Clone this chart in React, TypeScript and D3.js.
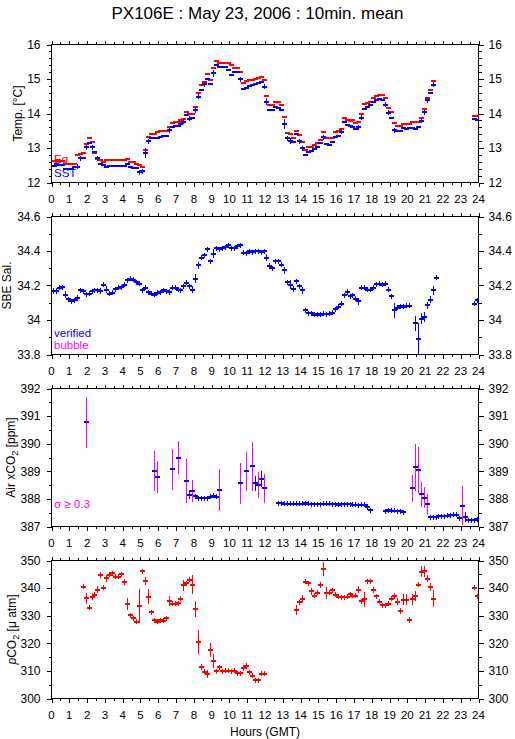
import * as d3 from 'd3';

// 10-minute bins: [bin index (0..143), value, half error bar]
const sstData: number[][] = [
  [0, 12.48, 0], [1, 12.53, 0.05], [2, 12.51, 0], [3, 12.51, 0], [4, 12.39, 0], [5, 12.39, 0], [6, 12.39, 0],
  [7, 12.44, 0], [8, 12.45, 0.05], [9, 12.7, 0.05], [10, 12.72, 0], [11, 13.02, 0.08], [12, 13.14, 0],
  [13, 13.02, 0.05], [14, 12.89, 0], [15, 12.7, 0.08], [16, 12.53, 0], [17, 12.51, 0], [18, 12.46, 0],
  [19, 12.49, 0], [20, 12.48, 0], [21, 12.47, 0], [22, 12.47, 0], [23, 12.47, 0], [24, 12.48, 0],
  [25, 12.53, 0], [26, 12.44, 0], [27, 12.43, 0], [28, 12.42, 0], [29, 12.29, 0.08], [30, 12.32, 0.07],
  [31, 12.85, 0.15], [32, 13.19, 0.05], [33, 13.28, 0], [34, 13.28, 0], [35, 13.3, 0], [36, 13.33, 0],
  [37, 13.34, 0], [38, 13.36, 0], [39, 13.52, 0.05], [40, 13.62, 0], [41, 13.63, 0], [42, 13.65, 0],
  [43, 13.69, 0], [44, 13.76, 0.05], [45, 13.95, 0], [46, 13.85, 0.04], [47, 13.88, 0], [48, 14.1, 0.08],
  [49, 14.49, 0.08], [50, 14.68, 0], [51, 14.85, 0.07], [52, 14.99, 0], [53, 14.85, 0], [54, 15.16, 0.1],
  [55, 15.42, 0], [56, 15.35, 0], [57, 15.35, 0], [58, 15.35, 0], [59, 15.25, 0], [60, 15.13, 0],
  [61, 15.2, 0], [62, 15.2, 0], [63, 14.99, 0.07], [64, 14.7, 0], [65, 14.73, 0], [66, 14.8, 0],
  [67, 14.82, 0], [68, 14.85, 0], [69, 14.89, 0], [70, 14.9, 0], [71, 14.78, 0.07], [72, 14.34, 0.1],
  [73, 14.1, 0], [74, 14.1, 0], [75, 14.2, 0], [76, 14.15, 0], [77, 14.1, 0], [78, 13.69, 0.15],
  [79, 13.28, 0.07], [80, 13.2, 0.08], [81, 13.18, 0], [82, 13.4, 0], [83, 13.19, 0.05], [84, 13.0, 0.07],
  [85, 12.8, 0], [86, 12.87, 0], [87, 12.9, 0], [88, 12.96, 0], [89, 13.04, 0], [90, 13.14, 0],
  [91, 13.31, 0.05], [92, 13.12, 0], [93, 13.09, 0], [94, 13.16, 0], [95, 13.33, 0], [96, 13.36, 0],
  [97, 13.47, 0.05], [98, 13.74, 0], [99, 13.67, 0], [100, 13.65, 0], [101, 13.62, 0], [102, 13.56, 0],
  [103, 13.6, 0.07], [104, 13.88, 0.05], [105, 14.12, 0], [106, 14.18, 0], [107, 14.25, 0], [108, 14.32, 0],
  [109, 14.39, 0], [110, 14.42, 0], [111, 14.39, 0], [112, 14.25, 0.07], [113, 14.02, 0.05], [114, 13.86, 0],
  [115, 13.52, 0.05], [116, 13.49, 0], [117, 13.49, 0], [118, 13.57, 0], [119, 13.55, 0], [120, 13.58, 0],
  [121, 13.57, 0], [122, 13.54, 0], [123, 13.62, 0], [124, 13.79, 0.05], [125, 14.04, 0.05],
  [126, 14.39, 0.1], [127, 14.58, 0], [128, 14.84, 0.05], [142, 13.83, 0], [143, 13.81, 0],
];

const eqData: number[][] = [
  [0, 12.62], [1, 12.62], [2, 12.62], [3, 12.62], [4, 12.53], [5, 12.53], [6, 12.53], [7, 12.53],
  [8, 12.8], [9, 12.82], [10, 12.85], [11, 13.12], [12, 13.28], [13, 13.17], [14, 12.85], [15, 12.67],
  [16, 12.65], [17, 12.6], [18, 12.65], [19, 12.65], [20, 12.65], [21, 12.65], [22, 12.65], [23, 12.65],
  [24, 12.65], [25, 12.67], [26, 12.58], [27, 12.58], [28, 12.53], [29, 12.5], [30, 12.46], [31, 12.94],
  [32, 13.31], [33, 13.4], [34, 13.4], [35, 13.45], [36, 13.49], [37, 13.49], [38, 13.5], [39, 13.6],
  [40, 13.72], [41, 13.74], [42, 13.75], [43, 13.8], [44, 13.83], [45, 14.05], [46, 13.98], [47, 13.98],
  [48, 14.2], [49, 14.58], [50, 14.82], [51, 14.92], [52, 15.14], [53, 14.97], [54, 15.31], [55, 15.53],
  [56, 15.47], [57, 15.47], [58, 15.45], [59, 15.47], [60, 15.4], [61, 15.33], [62, 15.33], [63, 15.19],
  [64, 14.87], [65, 14.94], [66, 14.97], [67, 14.98], [68, 15.0], [69, 15.02], [70, 15.05], [71, 14.97],
  [72, 14.52], [73, 14.25], [74, 14.25], [75, 14.33], [76, 14.33], [77, 14.25], [78, 13.9], [79, 13.43],
  [80, 13.42], [81, 13.28], [82, 13.5], [83, 13.38], [84, 13.17], [85, 12.94], [86, 13.02], [87, 13.04],
  [88, 13.1], [89, 13.14], [90, 13.23], [91, 13.45], [92, 13.28], [93, 13.28], [94, 13.28], [95, 13.45],
  [96, 13.5], [97, 13.55], [98, 13.86], [99, 13.82], [100, 13.78], [101, 13.8], [102, 13.73], [103, 13.75],
  [104, 13.98], [105, 14.27], [106, 14.29], [107, 14.34], [108, 14.44], [109, 14.52], [110, 14.55],
  [111, 14.53], [112, 14.44], [113, 14.17], [114, 14.03], [115, 13.72], [116, 13.64], [117, 13.64],
  [118, 13.69], [119, 13.69], [120, 13.69], [121, 13.75], [122, 13.75], [123, 13.75], [124, 13.86],
  [125, 14.14], [126, 14.46], [127, 14.68], [128, 14.93], [142, 13.94], [143, 13.94],
];

const salData: number[][] = [
  [0, 34.168, 0.015], [1, 34.168, 0.02], [2, 34.186, 0], [3, 34.19, 0], [4, 34.147, 0.02], [5, 34.12, 0],
  [6, 34.108, 0], [7, 34.114, 0], [8, 34.128, 0.015], [9, 34.172, 0], [10, 34.166, 0], [11, 34.149, 0],
  [12, 34.153, 0], [13, 34.168, 0], [14, 34.172, 0], [15, 34.172, 0], [16, 34.168, 0.015], [17, 34.205, 0],
  [18, 34.176, 0.02], [19, 34.153, 0.015], [20, 34.157, 0], [21, 34.178, 0], [22, 34.186, 0], [23, 34.19, 0],
  [24, 34.205, 0], [25, 34.23, 0.015], [26, 34.238, 0], [27, 34.234, 0], [28, 34.22, 0], [29, 34.21, 0],
  [30, 34.172, 0.015], [31, 34.187, 0.015], [32, 34.162, 0], [33, 34.153, 0], [34, 34.147, 0], [35, 34.157, 0],
  [36, 34.162, 0], [37, 34.172, 0], [38, 34.168, 0], [39, 34.162, 0.015], [40, 34.187, 0], [41, 34.187, 0],
  [42, 34.176, 0], [43, 34.172, 0], [44, 34.197, 0], [45, 34.216, 0], [46, 34.195, 0.015], [47, 34.176, 0.02],
  [48, 34.24, 0.025], [49, 34.317, 0.02], [50, 34.36, 0], [51, 34.375, 0.015], [52, 34.41, 0], [53, 34.34, 0],
  [54, 34.384, 0.025], [55, 34.417, 0], [56, 34.41, 0], [57, 34.417, 0], [58, 34.423, 0], [59, 34.432, 0],
  [60, 34.417, 0], [61, 34.417, 0], [62, 34.428, 0], [63, 34.432, 0], [64, 34.39, 0], [65, 34.388, 0],
  [66, 34.4, 0], [67, 34.394, 0], [68, 34.4, 0], [69, 34.4, 0], [70, 34.394, 0], [71, 34.4, 0],
  [72, 34.36, 0.02], [73, 34.313, 0.02], [74, 34.3, 0], [75, 34.34, 0], [76, 34.34, 0], [77, 34.32, 0],
  [78, 34.288, 0.02], [79, 34.22, 0], [80, 34.205, 0.025], [81, 34.18, 0.02], [82, 34.224, 0], [83, 34.195, 0],
  [84, 34.172, 0.02], [85, 34.056, 0], [86, 34.04, 0], [87, 34.04, 0], [88, 34.03, 0], [89, 34.033, 0],
  [90, 34.03, 0], [91, 34.037, 0], [92, 34.033, 0], [93, 34.037, 0], [94, 34.043, 0], [95, 34.062, 0],
  [96, 34.076, 0], [97, 34.095, 0.015], [98, 34.143, 0], [99, 34.162, 0.015], [100, 34.139, 0], [101, 34.143, 0],
  [102, 34.124, 0], [103, 34.108, 0.02], [104, 34.187, 0.015], [105, 34.187, 0], [106, 34.176, 0],
  [107, 34.176, 0], [108, 34.187, 0], [109, 34.207, 0], [110, 34.21, 0], [111, 34.205, 0], [112, 34.21, 0],
  [113, 34.176, 0], [114, 34.137, 0.015], [115, 34.056, 0.045], [116, 34.072, 0], [117, 34.08, 0],
  [118, 34.076, 0], [119, 34.082, 0], [120, 34.082, 0], [122, 33.98, 0.045], [123, 33.89, 0.09],
  [124, 34.008, 0.03], [125, 34.018, 0.03], [126, 34.085, 0.02], [127, 34.118, 0.02], [128, 34.172, 0.025],
  [129, 34.245, 0.015], [142, 34.095, 0], [143, 34.114, 0.015],
];

const xco2Data: number[][] = [
  [11, 390.77, 0.92], [34, 389.0, 0.72], [35, 388.78, 0.58], [40, 389.07, 0.74], [42, 389.5, 0.6],
  [45, 388.64, 0.8], [46, 388.15, 0.16], [47, 388.29, 0.4], [48, 388.09, 0.1], [49, 388.03, 0.04],
  [50, 388.03, 0.04], [51, 388.03, 0.04], [52, 388.03, 0.04], [53, 388.07, 0.04], [54, 388.12, 0.08],
  [55, 388.07, 0.04], [56, 388.33, 0.76], [63, 388.56, 0.75], [65, 389.0, 0.7], [67, 389.18, 0.89],
  [68, 388.56, 0.28], [69, 388.5, 0.48], [70, 388.72, 0.28], [71, 388.38, 0.53],
  [76, 387.84, 0.03], [77, 387.84, 0.03], [78, 387.83, 0.03], [79, 387.82, 0.03], [80, 387.82, 0.03],
  [81, 387.82, 0.03], [82, 387.82, 0.03], [83, 387.82, 0.03], [84, 387.83, 0.03], [85, 387.84, 0.03],
  [86, 387.83, 0.03], [87, 387.81, 0.03], [88, 387.81, 0.03], [89, 387.81, 0.03], [90, 387.81, 0.03],
  [91, 387.82, 0.03], [92, 387.82, 0.03], [93, 387.82, 0.03], [94, 387.81, 0.03], [95, 387.8, 0.03],
  [96, 387.79, 0.03], [97, 387.8, 0.03], [98, 387.81, 0.03], [99, 387.81, 0.05], [100, 387.81, 0.03],
  [101, 387.79, 0.03], [102, 387.78, 0.03], [103, 387.77, 0.03], [104, 387.79, 0.05], [105, 387.78, 0.03],
  [106, 387.7, 0.1], [107, 387.58, 0.03], [112, 387.55, 0.04], [113, 387.58, 0.04], [114, 387.57, 0.03],
  [115, 387.57, 0.03], [116, 387.55, 0.03], [117, 387.55, 0.03], [118, 387.52, 0.03],
  [121, 388.38, 0.5], [122, 389.15, 0.85], [123, 389.05, 0.82], [124, 388.17, 0.46], [125, 388.05, 0.37],
  [126, 387.8, 0.38], [127, 387.34, 0.03], [128, 387.34, 0.03], [129, 387.34, 0.03], [130, 387.37, 0.03],
  [131, 387.38, 0.03], [132, 387.38, 0.03], [133, 387.39, 0.03], [134, 387.41, 0.03], [135, 387.43, 0.03],
  [136, 387.42, 0.03], [137, 387.3, 0.04], [138, 387.75, 0.7], [139, 387.35, 0.18], [140, 387.22, 0.04],
  [141, 387.22, 0.03], [142, 387.22, 0.03], [143, 387.27, 0.04],
];

const pco2Data: number[][] = [
  [10, 340.4, 0.4], [11, 336.4, 2], [12, 332.9, 0.8], [13, 336.9, 1.2], [14, 337.6, 0.6], [15, 339.4, 1.3],
  [16, 344.7, 1], [17, 340.1, 0.8], [18, 343.6, 1.3], [19, 344.9, 0.4], [20, 345.4, 0.3], [21, 344.2, 0.6],
  [22, 344.1, 0.3], [23, 345.1, 0.4], [24, 342.2, 1.2], [25, 334.3, 2.2], [26, 330.2, 0.5], [27, 329, 0.5],
  [28, 327.8, 0.3], [29, 333.5, 6.3], [30, 346.1, 0.8], [31, 342.6, 1.3], [32, 336.9, 2.6], [33, 331.3, 0.9],
  [34, 328.4, 0.3], [35, 327.8, 0.2], [36, 328.4, 0.3], [37, 328.1, 0.3], [38, 329, 0.4], [39, 335.3, 1.8],
  [40, 334.3, 0.4], [41, 334.3, 0.3], [42, 334.6, 0.4], [43, 336.1, 0.7], [44, 341.1, 2], [45, 341.8, 0.7],
  [46, 343.1, 0.3], [47, 341.3, 3.5], [48, 332.4, 3], [49, 320.5, 4.5], [50, 311.4, 1], [51, 309.7, 0.6],
  [52, 309, 1.5], [53, 317.6, 2.5], [54, 313.5, 2.6], [55, 309.8, 0.7], [56, 311.4, 0.7], [57, 309.8, 0.4],
  [58, 310, 0.5], [59, 310.1, 0.7], [60, 309.9, 0.8], [61, 310, 0.8], [62, 309.1, 0.5], [63, 309.2, 0.7],
  [64, 311, 1], [65, 311.8, 1], [66, 309.6, 0.6], [67, 308.2, 0.3], [68, 306.6, 1], [69, 306.7, 0.5],
  [70, 309, 1], [71, 309, 0.8], [82, 332, 1.8], [83, 334.9, 0.8], [84, 336.1, 1.5], [85, 342.3, 0.5],
  [86, 341.8, 0.4], [87, 338.8, 1.3], [88, 337.3, 0.4], [89, 338.4, 0.6], [90, 341.1, 1], [91, 346.9, 2.5],
  [92, 338.3, 2.2], [93, 338.3, 0.5], [94, 339.2, 0.6], [95, 337.6, 0.3], [96, 336.9, 0.3], [97, 336.6, 0.4],
  [98, 336.6, 0.6], [99, 336.8, 0.3], [100, 337.8, 0.5], [101, 337.2, 0.3], [102, 337.2, 0.3],
  [103, 339.4, 1.3], [104, 335.3, 0.8], [105, 335.9, 2.6], [106, 342.4, 0.6], [107, 342.5, 0.3],
  [108, 339.4, 1], [109, 337.1, 0.7], [110, 335, 0.3], [111, 333.8, 0.6], [112, 333.8, 0.3], [113, 334.3, 0.6],
  [114, 336.1, 0.8], [115, 337.1, 1], [116, 335, 1.3], [117, 331.7, 1], [118, 335.8, 2], [119, 335.8, 2],
  [120, 328.4, 1], [121, 335.9, 2], [122, 337.2, 1.8], [123, 341.3, 1], [124, 345.9, 2], [125, 346.1, 2],
  [126, 343.4, 1.3], [127, 340.4, 1.3], [128, 336.2, 3], [142, 340.1, 0.6], [143, 337.1, 0.6],
];

const hourTicks = d3.range(0, 25);
const BLUE = '#0000ff';
const RED = '#ff0000';
const MAGENTA = '#ff00ff';
const FONT = '"Liberation Sans", Arial, Helvetica, sans-serif';

const LEFT = 51.5;
const RIGHT = 478.5;
const PANEL_H = 138;
const panelTop = (i: number) => 44.5 + 172 * i;

const x = d3.scaleLinear().domain([0, 24]).range([LEFT, RIGHT]);
const binX = (b: number) => x((b + 0.5) / 6);

type AxisProps = {
  top: number;
  y: d3.ScaleLinear<number, number>;
  major: number;
  minor: number;
  label: React.ReactNode;
  labelX: number;
  id: string;
};

const Frame = ({ top, y, major, minor, label, labelX, id }: AxisProps) => {
  const bottom = top + PANEL_H;
  const majors = y.ticks(major);
  const minors = y.ticks(minor);
  const isMajor = (v: number) => majors.some((m) => Math.abs(m - v) < 1e-9);
  const fmt = d3.format('~g');
  return (
    <g>
      <clipPath id={id}>
        <rect x={LEFT} y={top} width={RIGHT - LEFT} height={PANEL_H} />
      </clipPath>
      <rect x={LEFT} y={top} width={RIGHT - LEFT} height={PANEL_H} fill="none" stroke="#000" />
      {x.ticks(48).map((t) => {
        const len = Number.isInteger(t) ? 4 : 2.5;
        const px = Math.round(x(t)) + 0.5;
        return (
          <g key={'xt' + t}>
            <line x1={px} x2={px} y1={top} y2={top - len} stroke="#000" />
            <line x1={px} x2={px} y1={bottom} y2={bottom + len} stroke="#000" />
          </g>
        );
      })}
      {hourTicks.map((h) => (
        <text key={'xl' + h} x={x(h)} y={bottom + 20} textAnchor="middle" fontSize={11.5}>
          {h}
        </text>
      ))}
      {minors.map((v) => {
        const len = isMajor(v) ? 5 : 3;
        const py = Math.round(y(v)) + 0.5;
        return (
          <g key={'yt' + v}>
            <line x1={LEFT} x2={LEFT - len} y1={py} y2={py} stroke="#000" />
            <line x1={RIGHT} x2={RIGHT + len} y1={py} y2={py} stroke="#000" />
          </g>
        );
      })}
      {majors.map((v) => (
        <g key={'yl' + v}>
          <text x={LEFT - 11} y={y(v)} dy="0.36em" textAnchor="end" fontSize={12}>
            {fmt(v)}
          </text>
          <text x={RIGHT + 10} y={y(v)} dy="0.36em" textAnchor="start" fontSize={12}>
            {fmt(v)}
          </text>
        </g>
      ))}
      <text
        transform={`translate(${labelX}, ${top + PANEL_H / 2}) rotate(-90)`}
        textAnchor="middle"
        dy="0.36em"
        fontSize={12}
      >
        {label}
      </text>
    </g>
  );
};

const Marks = ({
  data,
  y,
  color,
  vColor,
  cross,
  clip,
}: {
  data: number[][];
  y: d3.ScaleLinear<number, number>;
  color: string;
  vColor?: (err: number) => string;
  cross: boolean;
  clip: string;
}) => (
  <g clipPath={`url(#${clip})`}>
    {data.map(([b, v, e = 0]) => {
      const cx = Math.round(binX(b)) + 0.5;
      const cy = y(v);
      let y1 = y(v + e);
      let y2 = y(v - e);
      if (cross || e > 0) {
        y1 = Math.min(y1, cy - 2.5);
        y2 = Math.max(y2, cy + 2.5);
      }
      return (
        <g key={b}>
          {(cross || e > 0) && (
            <line x1={cx} x2={cx} y1={y1} y2={y2} stroke={vColor ? vColor(e) : color} strokeWidth={1.5} />
          )}
          <line x1={cx - 2.5} x2={cx + 2.5} y1={cy} y2={cy} stroke={color} strokeWidth={2} />
        </g>
      );
    })}
  </g>
);

export default function App() {
  const yT = d3.scaleLinear().domain([12, 16]).range([panelTop(0) + PANEL_H, panelTop(0)]);
  const yS = d3.scaleLinear().domain([33.8, 34.6]).range([panelTop(1) + PANEL_H, panelTop(1)]);
  const yA = d3.scaleLinear().domain([387, 392]).range([panelTop(2) + PANEL_H, panelTop(2)]);
  const yP = d3.scaleLinear().domain([300, 350]).range([panelTop(3) + PANEL_H, panelTop(3)]);

  return (
    <svg
      width={515}
      height={739}
      style={{ position: 'absolute', left: 0, top: 0, background: '#fff' }}
      fontFamily={FONT}
      shapeRendering="crispEdges"
    >
      <rect width={515} height={739} fill="#fff" />
      <text x={257.5} y={18.5} textAnchor="middle" fontSize={17}>
        PX106E : May 23, 2006 : 10min. mean
      </text>

      <Frame top={panelTop(0)} y={yT} major={4} minor={20} label="Temp. [°C]" labelX={18} id="c0" />
      <Frame top={panelTop(1)} y={yS} major={4} minor={8} label="SBE Sal." labelX={7} id="c1" />
      <Frame
        top={panelTop(2)}
        y={yA}
        major={5}
        minor={10}
        label={
          <>
            Air xCO<tspan fontSize={9} dy={3}>2</tspan>
            <tspan dy={-3}> [ppm]</tspan>
          </>
        }
        labelX={11}
        id="c2"
      />
      <Frame
        top={panelTop(3)}
        y={yP}
        major={5}
        minor={10}
        label={
          <>
            <tspan fontStyle="italic">p</tspan>CO<tspan fontSize={9} dy={3}>2</tspan>
            <tspan dy={-3}> [μ atm]</tspan>
          </>
        }
        labelX={12}
        id="c3"
      />

      <Marks data={eqData} y={yT} color={RED} cross={false} clip="c0" />
      <Marks data={sstData} y={yT} color={BLUE} cross={false} clip="c0" />
      <Marks data={salData} y={yS} color={BLUE} cross={true} clip="c1" />
      <Marks
        data={xco2Data}
        y={yA}
        color={BLUE}
        vColor={(e) => (e >= 0.3 ? MAGENTA : BLUE)}
        cross={true}
        clip="c2"
      />
      <Marks data={pco2Data} y={yP} color={RED} cross={true} clip="c3" />

      <text x={54} y={163} fill={RED} fontSize={11.5}>Eq</text>
      <text x={54} y={177} fill={BLUE} fontSize={11.5}>SST</text>
      <text x={54} y={337} fill={BLUE} fontSize={11.5}>verified</text>
      <text x={54} y={349} fill={MAGENTA} fontSize={11.5}>bubble</text>
      <text x={54} y={508} fill={MAGENTA} fontSize={11.5}>σ ≥ 0.3</text>

      <text x={265} y={736} textAnchor="middle" fontSize={12}>
        Hours (GMT)
      </text>
    </svg>
  );
}
